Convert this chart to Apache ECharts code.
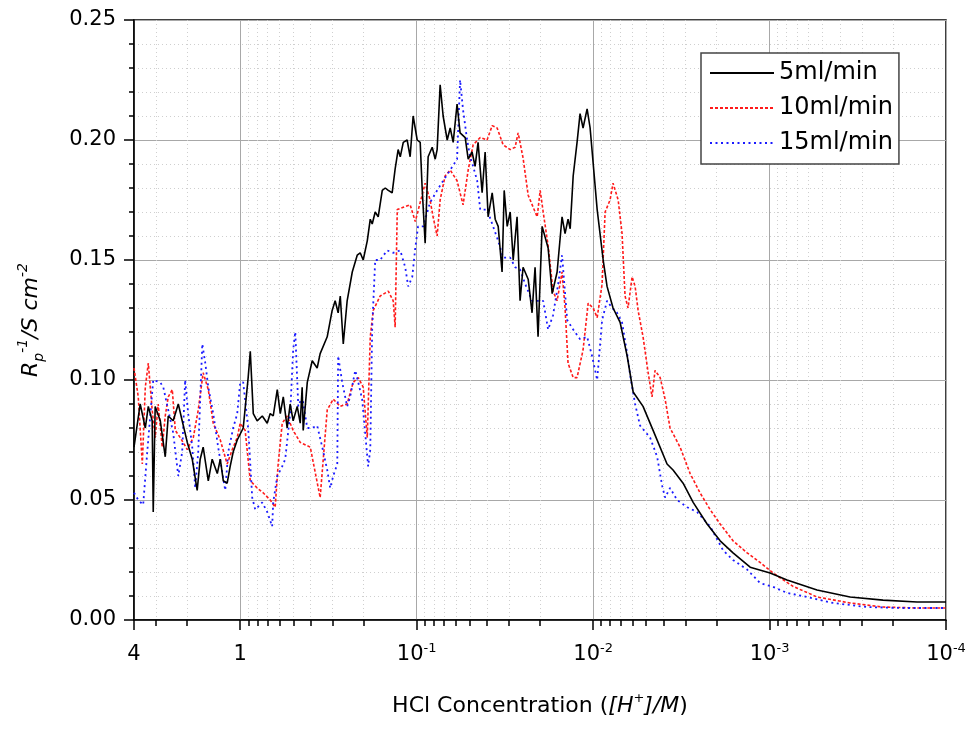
<!DOCTYPE html>
<html>
<head>
<meta charset="utf-8">
<script src="https://cdn.jsdelivr.net/npm/echarts/dist/echarts.min.js"></script>
<style>html,body{margin:0;padding:0;background:#fff}#c{width:974px;height:729px}</style>
</head>
<body>
<div id="c"></div>
<script>
// x values are -log10([H+]/M); y values are Rp^-1 in S cm^-2
const seriesNames = ['5ml/min', '10ml/min', '15ml/min'];

const x5 = [-0.602,-0.567,-0.538,-0.521,-0.499,-0.493,-0.482,-0.453,-0.425,-0.408,-0.380,-0.351,-0.329,-0.300,-0.272,-0.244,-0.227,-0.210,-0.181,-0.159,-0.130,-0.113,-0.096,-0.074,-0.057,-0.040,-0.017,0.017,0.045,0.057,0.074,0.096,0.125,0.153,0.170,0.187,0.210,0.227,0.244,0.266,0.283,0.300,0.323,0.340,0.351,0.357,0.380,0.408,0.436,0.453,0.493,0.521,0.538,0.555,0.567,0.584,0.606,0.635,0.663,0.680,0.697,0.720,0.737,0.748,0.765,0.782,0.805,0.822,0.839,0.861,0.878,0.895,0.907,0.924,0.946,0.963,0.980,1.003,1.020,1.031,1.048,1.065,1.088,1.105,1.116,1.133,1.150,1.173,1.190,1.207,1.229,1.246,1.275,1.292,1.314,1.331,1.348,1.371,1.388,1.405,1.428,1.445,1.462,1.484,1.496,1.513,1.530,1.547,1.569,1.586,1.603,1.632,1.654,1.671,1.688,1.711,1.745,1.768,1.796,1.824,1.841,1.858,1.870,1.887,1.909,1.926,1.943,1.966,1.983,2.023,2.057,2.079,2.113,2.153,2.193,2.227,2.283,2.340,2.419,2.453,2.510,2.567,2.646,2.720,2.793,2.890,3.003,3.099,3.269,3.456,3.643,3.836,4.000];
const y5 = [0.072,0.090,0.080,0.089,0.083,0.045,0.089,0.083,0.068,0.085,0.083,0.090,0.083,0.074,0.067,0.054,0.067,0.072,0.058,0.067,0.061,0.067,0.058,0.057,0.064,0.070,0.075,0.080,0.101,0.112,0.086,0.083,0.085,0.082,0.086,0.085,0.096,0.086,0.093,0.080,0.090,0.083,0.089,0.082,0.097,0.079,0.099,0.108,0.105,0.111,0.118,0.129,0.133,0.128,0.135,0.115,0.133,0.145,0.152,0.153,0.150,0.158,0.167,0.165,0.170,0.168,0.179,0.180,0.179,0.178,0.188,0.196,0.193,0.199,0.200,0.193,0.210,0.200,0.199,0.180,0.157,0.193,0.197,0.192,0.196,0.223,0.210,0.200,0.205,0.199,0.215,0.203,0.201,0.192,0.195,0.189,0.199,0.178,0.195,0.168,0.178,0.167,0.164,0.145,0.179,0.164,0.170,0.150,0.168,0.133,0.147,0.142,0.128,0.147,0.118,0.164,0.155,0.136,0.145,0.168,0.161,0.167,0.163,0.185,0.199,0.211,0.205,0.213,0.205,0.171,0.150,0.139,0.130,0.124,0.110,0.095,0.089,0.079,0.065,0.0625,0.057,0.049,0.040,0.033,0.028,0.022,0.0196,0.0167,0.0125,0.0096,0.0083,0.0075,0.0075];

const x10 = [-0.602,-0.595,-0.578,-0.555,-0.538,-0.521,-0.499,-0.482,-0.465,-0.442,-0.425,-0.408,-0.385,-0.368,-0.340,-0.300,-0.266,-0.238,-0.210,-0.181,-0.153,-0.113,-0.074,-0.045,-0.017,0.000,0.028,0.057,0.096,0.130,0.170,0.198,0.215,0.238,0.266,0.300,0.340,0.397,0.453,0.493,0.527,0.567,0.606,0.640,0.669,0.697,0.720,0.737,0.754,0.793,0.839,0.867,0.878,0.890,0.924,0.963,0.992,1.020,1.048,1.076,1.093,1.116,1.133,1.161,1.190,1.229,1.263,1.292,1.320,1.360,1.399,1.428,1.456,1.490,1.530,1.558,1.575,1.603,1.632,1.660,1.683,1.700,1.717,1.745,1.773,1.796,1.824,1.841,1.858,1.887,1.909,1.943,1.972,2.000,2.023,2.051,2.068,2.096,2.113,2.142,2.164,2.181,2.198,2.221,2.238,2.255,2.283,2.312,2.334,2.351,2.380,2.408,2.436,2.493,2.550,2.606,2.663,2.720,2.793,2.873,2.946,3.020,3.133,3.269,3.456,3.643,3.836,4.000];
const y10 = [0.105,0.105,0.093,0.065,0.097,0.107,0.0875,0.076,0.090,0.072,0.085,0.093,0.096,0.079,0.076,0.071,0.076,0.0875,0.103,0.096,0.082,0.075,0.065,0.071,0.076,0.082,0.079,0.058,0.055,0.053,0.050,0.047,0.065,0.082,0.085,0.079,0.074,0.072,0.051,0.0875,0.092,0.089,0.090,0.099,0.101,0.097,0.076,0.118,0.129,0.135,0.137,0.133,0.122,0.171,0.172,0.173,0.166,0.174,0.182,0.175,0.168,0.160,0.175,0.185,0.1875,0.183,0.173,0.1875,0.198,0.201,0.200,0.206,0.205,0.198,0.196,0.197,0.203,0.1925,0.177,0.172,0.168,0.179,0.170,0.156,0.137,0.133,0.145,0.130,0.107,0.101,0.101,0.1125,0.132,0.130,0.126,0.140,0.170,0.175,0.182,0.175,0.161,0.135,0.130,0.143,0.139,0.129,0.118,0.103,0.093,0.104,0.101,0.092,0.080,0.072,0.061,0.053,0.046,0.040,0.033,0.028,0.024,0.0196,0.014,0.0096,0.0071,0.0054,0.005,0.005];

const x15 = [-0.602,-0.578,-0.550,-0.527,-0.493,-0.453,-0.436,-0.408,-0.380,-0.351,-0.329,-0.312,-0.295,-0.272,-0.255,-0.238,-0.215,-0.198,-0.181,-0.153,-0.125,-0.085,-0.068,-0.040,-0.017,0.000,0.017,0.045,0.068,0.085,0.125,0.153,0.181,0.187,0.210,0.238,0.255,0.283,0.300,0.312,0.329,0.351,0.380,0.408,0.436,0.465,0.493,0.510,0.527,0.550,0.555,0.578,0.606,0.623,0.652,0.669,0.691,0.708,0.725,0.737,0.748,0.765,0.793,0.833,0.867,0.907,0.935,0.952,0.975,0.992,1.008,1.037,1.076,1.116,1.150,1.190,1.229,1.246,1.263,1.286,1.303,1.320,1.343,1.360,1.399,1.433,1.462,1.490,1.530,1.558,1.586,1.615,1.654,1.683,1.717,1.745,1.773,1.802,1.824,1.853,1.887,1.926,1.966,1.994,2.023,2.051,2.079,2.108,2.136,2.164,2.193,2.210,2.238,2.266,2.323,2.363,2.391,2.408,2.436,2.476,2.533,2.589,2.663,2.737,2.793,2.873,2.946,3.020,3.099,3.212,3.360,3.552,3.739,4.000];
const y15 = [0.053,0.050,0.048,0.070,0.100,0.099,0.097,0.0875,0.078,0.060,0.070,0.100,0.086,0.072,0.055,0.070,0.115,0.107,0.097,0.086,0.072,0.054,0.070,0.080,0.086,0.099,0.099,0.080,0.051,0.046,0.049,0.045,0.039,0.049,0.060,0.064,0.067,0.086,0.1125,0.120,0.089,0.093,0.080,0.080,0.081,0.072,0.0625,0.055,0.060,0.065,0.110,0.099,0.089,0.093,0.104,0.099,0.092,0.078,0.064,0.071,0.122,0.150,0.150,0.154,0.153,0.154,0.147,0.139,0.143,0.155,0.164,0.164,0.174,0.179,0.183,0.1875,0.192,0.225,0.2125,0.200,0.193,0.189,0.183,0.171,0.171,0.164,0.158,0.151,0.151,0.147,0.146,0.140,0.133,0.133,0.133,0.121,0.127,0.140,0.152,0.125,0.121,0.117,0.118,0.110,0.100,0.125,0.133,0.130,0.128,0.124,0.111,0.102,0.090,0.081,0.076,0.068,0.056,0.051,0.055,0.050,0.047,0.045,0.039,0.029,0.025,0.021,0.0154,0.0138,0.0113,0.0096,0.0071,0.0054,0.005,0.005];

// axis ticks (concentrations in M)
const xTickConc = [4, 1, 0.1, 0.01, 0.001, 0.0001];
const xTickBase = ['4', '1', '10', '10', '10', '10'];
const xTickExp = ['', '', '-1', '-2', '-3', '-4'];
const xMinorConc = [3, 2, 0.9, 0.8, 0.7, 0.6, 0.5, 0.4, 0.3, 0.2,
  0.09, 0.08, 0.07, 0.06, 0.05, 0.04, 0.03, 0.02,
  0.009, 0.008, 0.007, 0.006, 0.005, 0.004, 0.003, 0.002,
  0.0009, 0.0008, 0.0007, 0.0006, 0.0005, 0.0004, 0.0003, 0.0002];
const yTicks = [0, 0.05, 0.10, 0.15, 0.20, 0.25];

const toP = c => -Math.log10(c);
const xMajor = xTickConc.map(toP);
const xMinor = xMinorConc.map(toP);
const xMin = xMajor[0], xMax = xMajor[xMajor.length - 1];

const FONT = 'DejaVu Sans';
const zip = (a, b) => a.map((v, i) => [v, b[i]]);

const chart = echarts.init(document.getElementById('c'), null, {renderer: 'canvas'});
chart.setOption({
  animation: false,
  backgroundColor: '#fff',
  grid: {left: 134, right: 28, top: 20, bottom: 109, show: true, borderColor: '#000', borderWidth: 1.5, backgroundColor: 'transparent'},
  legend: {
    data: seriesNames, orient: 'vertical', left: 701, top: 53,
    itemWidth: 64, itemHeight: 14, itemGap: 11,
    itemStyle: {opacity: 0},
    textStyle: {fontSize: 24, fontFamily: FONT, color: '#000'},
    borderColor: '#444', borderWidth: 1.5, backgroundColor: '#fff',
    padding: [8, 6, 9, 8]
  },
  xAxis: [{
    type: 'value', min: xMin, max: xMax,
    axisLine: {onZero: false, lineStyle: {color: '#000', width: 1.5}},
    axisTick: {customValues: xMajor, length: 10, lineStyle: {color: '#000', width: 1.5}},
    axisLabel: {
      customValues: xMajor, margin: 22, color: '#000',
      formatter: function (v) {
        let i = 0, best = 1e9;
        xMajor.forEach((m, k) => { if (Math.abs(m - v) < best) { best = Math.abs(m - v); i = k; } });
        return xTickExp[i] ? '{b|' + xTickBase[i] + '}{s|' + xTickExp[i] + '}' : '{b|' + xTickBase[i] + '}';
      },
      rich: {
        b: {fontSize: 21, fontFamily: FONT, color: '#000', lineHeight: 26},
        s: {fontSize: 13, fontFamily: FONT, color: '#000', verticalAlign: 'top', lineHeight: 13}
      }
    },
    splitLine: {show: true, lineStyle: {color: '#a8a8a8', width: 1}},
    name: '{n|HCl Concentration (}{i|[H}{is|+}{i|]/M}{n|)}',
    nameLocation: 'middle', nameGap: 72,
    nameTextStyle: {
      rich: {
        n: {fontSize: 22, fontFamily: FONT, color: '#000', lineHeight: 28},
        i: {fontSize: 22, fontFamily: FONT, fontStyle: 'italic', color: '#000', lineHeight: 28},
        is: {fontSize: 13, fontFamily: FONT, fontStyle: 'italic', color: '#000', verticalAlign: 'top', lineHeight: 13}
      }
    }
  }, {
    type: 'value', min: xMin, max: xMax, position: 'bottom',
    axisLine: {show: false, onZero: false},
    axisTick: {customValues: xMinor, length: 6, lineStyle: {color: '#000', width: 1.5}},
    axisLabel: {show: false},
    splitLine: {show: true, lineStyle: {color: '#cfcfcf', width: 1, type: [1, 3]}}
  }],
  yAxis: {
    type: 'value', min: yTicks[0], max: yTicks[yTicks.length - 1], interval: 0.05,
    axisLine: {show: true, onZero: false, lineStyle: {color: '#000', width: 1.5}},
    axisTick: {show: true, length: 10, lineStyle: {color: '#000', width: 1.5}},
    minorTick: {show: true, splitNumber: 5, length: 5, lineStyle: {color: '#000', width: 1.5}},
    splitLine: {show: true, lineStyle: {color: '#a8a8a8', width: 1}},
    minorSplitLine: {show: true, lineStyle: {color: '#cfcfcf', width: 1, type: [1, 3]}},
    axisLabel: {formatter: v => v.toFixed(2), fontSize: 21, fontFamily: FONT, color: '#000', margin: 18},
    name: '{i|R}{sub|p}{sup|-1}{i|/S cm}{sup|-2}',
    nameLocation: 'middle', nameGap: 88, nameRotate: 90,
    nameTextStyle: {
      rich: {
        i: {fontSize: 22, fontFamily: FONT, fontStyle: 'italic', color: '#000', lineHeight: 30},
        sub: {fontSize: 14, fontFamily: FONT, fontStyle: 'italic', color: '#000', verticalAlign: 'bottom', lineHeight: 14},
        sup: {fontSize: 14, fontFamily: FONT, fontStyle: 'italic', color: '#000', verticalAlign: 'top', lineHeight: 14}
      }
    }
  },
  series: [
    {name: seriesNames[0], type: 'line', data: zip(x5, y5), showSymbol: false, symbol: 'none', z: 3,
     lineStyle: {color: '#000', width: 1.6, type: 'solid'}, itemStyle: {color: '#000'}},
    {name: seriesNames[1], type: 'line', data: zip(x10, y10), showSymbol: false, symbol: 'none', z: 2,
     lineStyle: {color: '#ff1a1a', width: 1.6, type: [3, 2]}, itemStyle: {color: '#ff1a1a'}},
    {name: seriesNames[2], type: 'line', data: zip(x15, y15), showSymbol: false, symbol: 'none', z: 2,
     lineStyle: {color: '#1a1aff', width: 1.8, type: [2, 3.5]}, itemStyle: {color: '#1a1aff'}}
  ]
});
</script>
</body>
</html>
